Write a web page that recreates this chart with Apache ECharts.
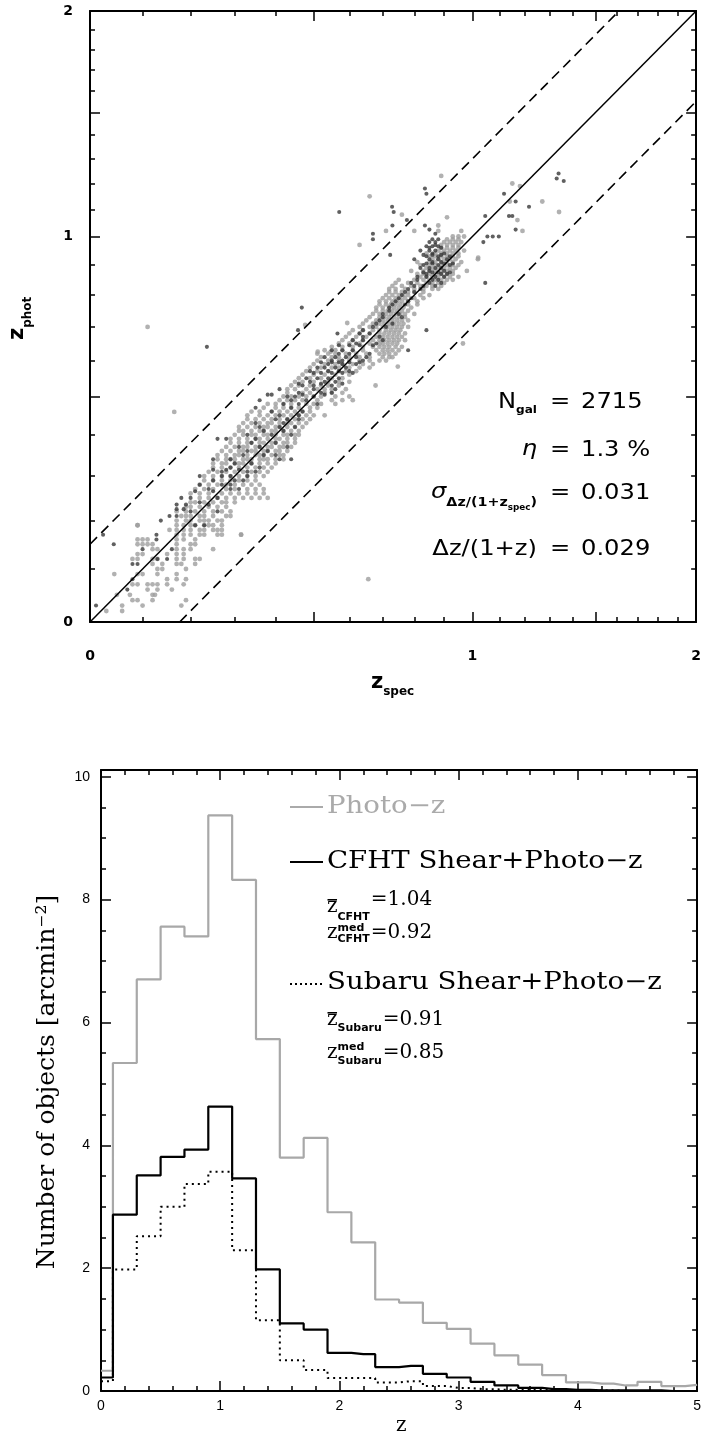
<!DOCTYPE html>
<html>
<head>
<meta charset="utf-8">
<script src="https://cdn.jsdelivr.net/npm/echarts@6/dist/echarts.min.js"></script>
<style>
  html, body { margin: 0; padding: 0; background: #fff; }
  #chart { width: 704px; height: 1439px; }
</style>
</head>
<body>
<div id="chart"></div>
<script>
// ---------------- Photometric vs spectroscopic redshifts ----------------
// Each row: [z_phot, [z_spec, z_spec, ...]]
const lightRows = [
  [0.02, [0.03, 0.06]],
  [0.03, [0.06, 0.10, 0.18]],
  [0.04, [0.08, 0.09, 0.12, 0.19]],
  [0.05, [0.05, 0.075, 0.12, 0.125]],
  [0.06, [0.11, 0.13, 0.16]],
  [0.07, [0.08, 0.09, 0.11, 0.12, 0.13, 0.15, 0.185]],
  [0.08, [0.15, 0.17, 0.19]],
  [0.09, [0.045, 0.09, 0.10, 0.13, 0.17]],
  [0.10, [0.13, 0.14, 0.19]],
  [0.11, [0.12, 0.14, 0.17, 0.18, 0.21]],
  [0.12, [0.08, 0.09, 0.12, 0.13, 0.17, 0.185, 0.21, 0.22]],
  [0.13, [0.09, 0.10, 0.15, 0.17, 0.185]],
  [0.14, [0.12, 0.13, 0.17, 0.185, 0.20, 0.25]],
  [0.15, [0.09, 0.10, 0.11, 0.12, 0.17, 0.20, 0.21]],
  [0.16, [0.09, 0.10, 0.11, 0.17, 0.185, 0.21]],
  [0.17, [0.17, 0.185, 0.20, 0.22, 0.23, 0.26, 0.27, 0.315]],
  [0.18, [0.155, 0.17, 0.185, 0.20, 0.22, 0.23, 0.25, 0.26, 0.27]],
  [0.19, [0.09, 0.17, 0.185, 0.20, 0.21, 0.23, 0.24, 0.25, 0.27]],
  [0.20, [0.17, 0.19, 0.20, 0.22, 0.23, 0.24, 0.26, 0.27]],
  [0.21, [0.18, 0.19, 0.20, 0.22, 0.23, 0.25, 0.28, 0.29]],
  [0.22, [0.17, 0.19, 0.21, 0.23, 0.25, 0.27, 0.29]],
  [0.23, [0.19, 0.20, 0.22, 0.24, 0.26, 0.28]],
  [0.24, [0.20, 0.21, 0.23, 0.25, 0.27, 0.28, 0.30]],
  [0.25, [0.22, 0.24, 0.26, 0.28, 0.30, 0.32, 0.34, 0.36, 0.38]],
  [0.26, [0.20, 0.22, 0.24, 0.27, 0.29, 0.31, 0.33, 0.35, 0.37]],
  [0.27, [0.21, 0.23, 0.25, 0.28, 0.30, 0.33, 0.35, 0.37]],
  [0.28, [0.22, 0.24, 0.26, 0.28, 0.30, 0.32, 0.34, 0.36]],
  [0.29, [0.23, 0.25, 0.27, 0.29, 0.31, 0.33, 0.35]],
  [0.30, [0.23, 0.25, 0.27, 0.29, 0.31, 0.33, 0.35, 0.37]],
  [0.31, [0.24, 0.26, 0.28, 0.30, 0.32, 0.34, 0.36, 0.38]],
  [0.32, [0.25, 0.27, 0.29, 0.31, 0.33, 0.35, 0.37, 0.39]],
  [0.33, [0.25, 0.27, 0.28, 0.30, 0.31, 0.32, 0.34, 0.36, 0.38, 0.40]],
  [0.34, [0.26, 0.28, 0.29, 0.30, 0.32, 0.33, 0.34, 0.36, 0.37, 0.38, 0.40, 0.42]],
  [0.35, [0.26, 0.28, 0.30, 0.31, 0.33, 0.35, 0.36, 0.37, 0.39, 0.41, 0.42]],
  [0.36, [0.27, 0.29, 0.31, 0.32, 0.34, 0.35, 0.37, 0.38, 0.40, 0.41, 0.43]],
  [0.37, [0.28, 0.30, 0.32, 0.33, 0.35, 0.36, 0.38, 0.39, 0.41, 0.42, 0.44]],
  [0.38, [0.29, 0.31, 0.33, 0.34, 0.36, 0.37, 0.39, 0.40, 0.42, 0.43, 0.45]],
  [0.39, [0.29, 0.31, 0.33, 0.35, 0.36, 0.38, 0.40, 0.41, 0.43, 0.45]],
  [0.40, [0.30, 0.32, 0.34, 0.35, 0.37, 0.38, 0.40, 0.42, 0.43, 0.45, 0.46]],
  [0.41, [0.31, 0.32, 0.34, 0.36, 0.37, 0.39, 0.40, 0.42, 0.44, 0.46]],
  [0.42, [0.31, 0.33, 0.35, 0.37, 0.38, 0.40, 0.41, 0.43, 0.45, 0.47]],
  [0.43, [0.32, 0.34, 0.36, 0.38, 0.39, 0.41, 0.43, 0.44, 0.46, 0.48]],
  [0.44, [0.33, 0.35, 0.37, 0.39, 0.41, 0.43, 0.45, 0.47, 0.49]],
  [0.45, [0.33, 0.36, 0.38, 0.40, 0.42, 0.44, 0.46, 0.48, 0.50, 0.53]],
  [0.46, [0.34, 0.36, 0.39, 0.41, 0.43, 0.45, 0.47, 0.49]],
  [0.47, [0.37, 0.40, 0.42, 0.44, 0.46, 0.49, 0.51]],
  [0.48, [0.38, 0.40, 0.42, 0.44, 0.48, 0.50, 0.52, 0.56]],
  [0.49, [0.41, 0.43, 0.45, 0.47, 0.51, 0.55, 0.58, 0.61]],
  [0.50, [0.42, 0.44, 0.46, 0.48, 0.50, 0.52, 0.56, 0.60]],
  [0.51, [0.43, 0.47, 0.49, 0.53, 0.55, 0.58]],
  [0.52, [0.43, 0.45, 0.48, 0.51, 0.53, 0.55, 0.59]],
  [0.53, [0.44, 0.46, 0.49, 0.52, 0.54, 0.57]],
  [0.54, [0.45, 0.47, 0.50, 0.54, 0.57, 0.60]],
  [0.55, [0.46, 0.49, 0.52, 0.55, 0.58]],
  [0.56, [0.47, 0.50, 0.53, 0.56, 0.60]],
  [0.57, [0.48, 0.51, 0.54, 0.57, 0.59, 0.62]],
  [0.58, [0.49, 0.52, 0.55, 0.57, 0.60, 0.63, 0.66]],
  [0.59, [0.50, 0.53, 0.56, 0.58, 0.61, 0.64, 0.67]],
  [0.60, [0.51, 0.54, 0.57, 0.60, 0.63, 0.66, 0.69, 0.71]],
  [0.61, [0.52, 0.55, 0.57, 0.60, 0.63, 0.66, 0.70, 0.72, 0.73]],
  [0.62, [0.51, 0.54, 0.56, 0.59, 0.62, 0.65, 0.69, 0.705, 0.72, 0.74]],
  [0.63, [0.53, 0.56, 0.58, 0.61, 0.64, 0.68, 0.70, 0.715, 0.73, 0.75]],
  [0.64, [0.55, 0.58, 0.61, 0.64, 0.67, 0.69, 0.705, 0.72, 0.74, 0.76]],
  [0.65, [0.57, 0.60, 0.63, 0.66, 0.69, 0.70, 0.715, 0.73, 0.745]],
  [0.66, [0.58, 0.61, 0.64, 0.67, 0.69, 0.705, 0.72, 0.735, 0.75, 0.77]],
  [0.67, [0.59, 0.62, 0.65, 0.68, 0.70, 0.715, 0.73, 0.745, 0.76]],
  [0.68, [0.60, 0.63, 0.66, 0.69, 0.705, 0.72, 0.735, 0.75, 0.77]],
  [0.69, [0.61, 0.64, 0.67, 0.69, 0.71, 0.725, 0.74, 0.755]],
  [0.70, [0.63, 0.66, 0.68, 0.70, 0.715, 0.73, 0.745, 0.76, 0.78]],
  [0.71, [0.64, 0.67, 0.69, 0.705, 0.72, 0.735, 0.75, 0.765]],
  [0.72, [0.65, 0.68, 0.70, 0.715, 0.73, 0.745, 0.76, 0.78]],
  [0.73, [0.66, 0.69, 0.705, 0.72, 0.735, 0.75, 0.77]],
  [0.74, [0.67, 0.69, 0.71, 0.725, 0.74, 0.755, 0.77, 0.80]],
  [0.75, [0.68, 0.70, 0.715, 0.73, 0.745, 0.76, 0.78]],
  [0.76, [0.68, 0.70, 0.72, 0.735, 0.75, 0.765, 0.79]],
  [0.77, [0.69, 0.71, 0.725, 0.74, 0.755, 0.78, 0.81]],
  [0.78, [0.69, 0.71, 0.73, 0.745, 0.76, 0.78, 0.81]],
  [0.79, [0.70, 0.72, 0.74, 0.755, 0.77, 0.80, 0.83]],
  [0.80, [0.71, 0.73, 0.75, 0.765, 0.78, 0.82, 0.85]],
  [0.81, [0.72, 0.74, 0.76, 0.78, 0.80, 0.83]],
  [0.82, [0.72, 0.74, 0.77, 0.80, 0.83, 0.86, 0.88]],
  [0.83, [0.73, 0.76, 0.79, 0.82, 0.84, 0.86, 0.89]],
  [0.84, [0.74, 0.78, 0.81, 0.84, 0.86, 0.88, 0.90]],
  [0.85, [0.75, 0.80, 0.83, 0.85, 0.87, 0.89, 0.91, 0.93]],
  [0.86, [0.82, 0.84, 0.86, 0.88, 0.90, 0.92, 0.95]],
  [0.87, [0.81, 0.83, 0.85, 0.87, 0.89, 0.91, 0.93]],
  [0.88, [0.79, 0.83, 0.85, 0.87, 0.89, 0.91, 0.93, 0.98]],
  [0.89, [0.84, 0.86, 0.88, 0.90, 0.92, 0.94]],
  [0.90, [0.82, 0.85, 0.87, 0.89, 0.91, 0.93, 0.95]],
  [0.91, [0.81, 0.85, 0.87, 0.89, 0.91, 0.93, 0.96]],
  [0.92, [0.86, 0.88, 0.90, 0.92, 0.94, 1.02]],
  [0.93, [0.85, 0.87, 0.89, 0.91, 0.93, 0.95]],
  [0.94, [0.84, 0.87, 0.89, 0.91, 0.93, 0.95]],
  [0.95, [0.88, 0.90, 0.92, 0.94, 0.97]],
  [0.96, [0.89, 0.91, 0.93, 0.95]],
  [0.97, [0.63, 0.89, 0.91, 0.93, 0.95]],
  [0.98, [0.90, 0.92, 0.94, 0.96]],
  [0.99, [0.91, 0.93, 0.95]],
  [1.00, [0.93, 0.95, 0.97]],
  [1.02, [0.71, 0.80, 0.88, 0.96, 1.19]],
  [1.04, [0.88]],
  [1.06, [1.17]],
  [1.07, [0.91]],
  [1.08, [0.76]],
  [1.09, [1.34]],
  [1.13, [1.14, 1.27]],
  [1.15, [0.66]],
  [1.19, [1.18]],
  [1.20, [1.15]],
  [1.23, [0.89]]
];

// isolated light points: [z_spec, z_phot]
const lightOutliers = [
  [0.165, 0.459], [0.656, 0.08], [0.594, 0.712], [0.477, 0.706], [0.547, 0.626],
  [0.511, 0.626], [0.966, 0.65], [0.678, 0.53], [0.747, 0.583], [1.021, 0.925],
  [0.11, 0.70], [0.09, 0.19], [0.315, 0.17]
];

const darkRows = [
  [0.03, [0.011]],
  [0.06, [0.07]],
  [0.08, [0.08]],
  [0.11, [0.08, 0.09]],
  [0.12, [0.13, 0.15]],
  [0.14, [0.10, 0.16]],
  [0.15, [0.044]],
  [0.16, [0.128]],
  [0.17, [0.024, 0.128]],
  [0.19, [0.21, 0.23]],
  [0.20, [0.137]],
  [0.21, [0.155, 0.17]],
  [0.22, [0.20, 0.26]],
  [0.225, [0.17, 0.185]],
  [0.235, [0.17, 0.19, 0.24]],
  [0.24, [0.22]],
  [0.25, [0.18, 0.20, 0.26]],
  [0.265, [0.21, 0.25]],
  [0.27, [0.24, 0.29, 0.31]],
  [0.28, [0.22, 0.27, 0.29]],
  [0.29, [0.25, 0.30, 0.32]],
  [0.30, [0.22, 0.27, 0.29, 0.33]],
  [0.31, [0.27, 0.33, 0.35]],
  [0.315, [0.25, 0.28, 0.31]],
  [0.32, [0.29, 0.36]],
  [0.33, [0.30, 0.34]],
  [0.34, [0.25, 0.29, 0.41, 0.44]],
  [0.35, [0.32, 0.37, 0.40]],
  [0.36, [0.33, 0.38]],
  [0.37, [0.31, 0.36, 0.43]],
  [0.38, [0.34, 0.40]],
  [0.39, [0.26, 0.28, 0.35]],
  [0.40, [0.33, 0.39, 0.44]],
  [0.41, [0.37, 0.42]],
  [0.42, [0.36, 0.41, 0.45]],
  [0.43, [0.35, 0.42]],
  [0.44, [0.40, 0.43, 0.46]],
  [0.45, [0.41, 0.46]],
  [0.46, [0.39, 0.47]],
  [0.47, [0.35, 0.44]],
  [0.48, [0.42, 0.46, 0.51]],
  [0.49, [0.36, 0.44, 0.48]],
  [0.50, [0.43, 0.45, 0.50]],
  [0.505, [0.38, 0.39, 0.47, 0.53]],
  [0.51, [0.46, 0.52, 0.55]],
  [0.52, [0.41, 0.50, 0.56]],
  [0.53, [0.47, 0.50, 0.55]],
  [0.535, [0.46, 0.52, 0.58]],
  [0.54, [0.49, 0.53, 0.56]],
  [0.55, [0.48, 0.51, 0.54, 0.57]],
  [0.565, [0.50, 0.52, 0.55, 0.58, 0.61]],
  [0.57, [0.49, 0.54, 0.57, 0.60]],
  [0.58, [0.51, 0.53, 0.56, 0.59]],
  [0.59, [0.54, 0.58, 0.62]],
  [0.595, [0.52, 0.55, 0.57, 0.60, 0.63]],
  [0.60, [0.55, 0.58, 0.64]],
  [0.61, [0.53, 0.56, 0.59, 0.62, 0.65]],
  [0.62, [0.57, 0.60, 0.66]],
  [0.63, [0.55, 0.58, 0.61, 0.78]],
  [0.64, [0.236]],
  [0.645, [0.57, 0.60, 0.63, 0.67]],
  [0.65, [0.62, 0.68]],
  [0.66, [0.61, 0.64, 0.70]],
  [0.67, [0.64, 0.69]],
  [0.68, [0.566, 0.63, 0.66]],
  [0.69, [0.458, 0.64, 0.84]],
  [0.70, [0.67, 0.71]],
  [0.71, [0.68, 0.73]],
  [0.72, [0.69]],
  [0.73, [0.70, 0.76]],
  [0.74, [0.70, 0.75]],
  [0.75, [0.72]],
  [0.76, [0.468, 0.72]],
  [0.77, [0.73, 0.77]],
  [0.78, [0.74, 0.78]],
  [0.79, [0.75, 0.79]],
  [0.80, [0.76]],
  [0.81, [0.77, 0.80]],
  [0.82, [0.78, 0.82]],
  [0.83, [0.80, 0.83, 0.87]],
  [0.84, [0.79, 0.85, 0.89, 1.047]],
  [0.85, [0.81, 0.86, 0.88]],
  [0.86, [0.81, 0.84, 0.87, 0.90]],
  [0.87, [0.84, 0.89, 0.91]],
  [0.875, [0.83, 0.86, 0.88, 0.92]],
  [0.88, [0.85, 0.90]],
  [0.89, [0.82, 0.85, 0.87, 0.89]],
  [0.90, [0.83, 0.88, 0.92]],
  [0.905, [0.84, 0.86, 0.90, 0.93]],
  [0.91, [0.86, 0.89]],
  [0.92, [0.80, 0.85, 0.88, 0.91]],
  [0.93, [0.84, 0.88, 0.92]],
  [0.935, [0.723, 0.83, 0.86, 0.89]],
  [0.94, [0.86, 0.90]],
  [0.95, [0.82, 0.85, 0.87]],
  [0.96, [0.85, 0.89]],
  [0.965, [0.84, 0.86, 0.88]],
  [0.97, [0.87]],
  [0.98, [0.85, 0.87, 1.04]],
  [0.99, [0.67, 0.86, 0.88]],
  [1.00, [1.055, 1.075, 1.098]],
  [1.01, [0.67, 0.87]],
  [1.025, [0.85, 1.163]],
  [1.04, [0.73, 0.835]],
  [1.06, [0.776]],
  [1.075, [1.047, 1.137, 1.15]],
  [1.09, [0.571, 0.734]],
  [1.11, [0.729, 1.216]],
  [1.13, [1.163]],
  [1.16, [0.84, 1.118]],
  [1.18, [0.835]],
  [1.21, [1.36]],
  [1.22, [1.33]],
  [1.24, [1.338]]
];

const outlierCut = 0.15;            // |dz|/(1+z) boundary
const zTickMajor = [0, 0.5, 1, 1.5, 2];
const zTickMinor = [0.1, 0.2, 0.3, 0.4, 0.6, 0.7, 0.8, 0.9, 1.1, 1.2, 1.3, 1.4, 1.6, 1.7, 1.8, 1.9];
const zTickLabels = [0, 1, 2];

// ---------------- Redshift distributions ----------------
const binCentres = [0, 0.2, 0.4, 0.6, 0.8, 1.0, 1.2, 1.4, 1.6, 1.8, 2.0, 2.2, 2.4,
                    2.6, 2.8, 3.0, 3.2, 3.4, 3.6, 3.8, 4.0, 4.2, 4.4, 4.6, 4.8, 5.0];
const photoZ = [0.33, 5.34, 6.70, 7.56, 7.40, 9.37, 8.32, 5.73, 3.80, 4.12, 2.91, 2.42, 1.49,
                1.44, 1.11, 1.01, 0.77, 0.58, 0.43, 0.26, 0.14, 0.12, 0.09, 0.15, 0.08, 0.10];
const cfhtShear = [0.22, 2.87, 3.51, 3.81, 3.93, 4.63, 3.46, 1.98, 1.10, 1.00, 0.62, 0.60, 0.39,
                   0.41, 0.28, 0.22, 0.15, 0.09, 0.05, 0.03, 0.02, 0.01, 0.01, 0.01, 0.0, 0.0];
const subaruShear = [0.16, 1.98, 2.52, 3.00, 3.37, 3.57, 2.29, 1.15, 0.50, 0.34, 0.21, 0.21, 0.14,
                     0.16, 0.08, 0.05, 0.03, 0.02, 0.02, 0.01, 0.01, 0.01, 0.0, 0.0, 0.0, 0.0];
const countTickMajor = [0, 2, 4, 6, 8, 10];
const countTickMinor = [0.5, 1, 1.5, 2.5, 3, 3.5, 4.5, 5, 5.5, 6.5, 7, 7.5, 8.5, 9, 9.5];

// ---------------- helpers ----------------
const onePlus = z => 1 + z;   // the redshift axes run over log(1+z)
function rowsToPoints(rows, extra) {
  const pts = [];
  rows.forEach(([zp, specs]) => specs.forEach(zs => pts.push([onePlus(zs), onePlus(zp)])));
  (extra || []).forEach(([zs, zp]) => pts.push([onePlus(zs), onePlus(zp)]));
  return pts;
}

const measureCtx = document.createElement('canvas').getContext('2d');
function textWidth(str, font) { measureCtx.font = font; return measureCtx.measureText(str).width; }
function fontOf(size, family, weight, style) {
  return `${style || 'normal'} ${weight || 'normal'} ${size}px "${family}"`;
}
// a run of text pieces laid out left to right; each piece gives its own baseline
function textRun(x0, pieces, scaleX) {
  const sx = scaleX || 1;
  const els = [];
  let x = x0;
  pieces.forEach(p => {
    const font = fontOf(p.size, p.family, p.weight, p.style);
    els.push({
      type: 'text', x: x, y: p.base - 0.346 * p.size, scaleX: sx, silent: true,
      style: { text: p.text, font: font, fill: p.fill || '#000', textAlign: 'left', textVerticalAlign: 'middle' }
    });
    x += textWidth(p.text, font) * sx + (p.gap || 0);
  });
  return { els, end: x };
}
function runWidth(pieces, scaleX) {
  let w = 0;
  pieces.forEach(p => { w += textWidth(p.text, fontOf(p.size, p.family, p.weight, p.style)) * (scaleX || 1) + (p.gap || 0); });
  return w;
}

const SANS = 'DejaVu Sans', SERIF = 'DejaVu Serif';
const axisLineStyle = { color: '#000', width: 2 };
const tickStyle = { color: '#000', width: 1.5 };

// ---------------- axes ----------------
function redshiftAxes(dim) {
  const isX = dim === 'x';
  const base = { gridIndex: 0, type: 'log', logBase: 10, min: onePlus(0), max: onePlus(2), splitLine: { show: false } };
  const pos = isX ? ['bottom', 'top'] : ['left', 'right'];
  const labelStyle = { show: true, customValues: zTickLabels.map(onePlus), formatter: v => String(Math.round(v - 1)),
                       color: '#000', fontFamily: SANS, fontWeight: 'bold', fontSize: 14, margin: isX ? 27 : 17 };
  return [
    Object.assign({}, base, { position: pos[0], axisLine: { show: true, onZero: false, lineStyle: axisLineStyle },
      axisTick: { show: true, inside: true, length: 10, customValues: zTickMajor.map(onePlus), lineStyle: tickStyle },
      axisLabel: labelStyle }),
    Object.assign({}, base, { position: pos[0], axisLine: { show: false },
      axisTick: { show: true, inside: true, length: 5, customValues: zTickMinor.map(onePlus), lineStyle: tickStyle },
      axisLabel: { show: false } }),
    Object.assign({}, base, { position: pos[1], axisLine: { show: true, onZero: false, lineStyle: axisLineStyle },
      axisTick: { show: true, inside: true, length: 10, customValues: zTickMajor.map(onePlus), lineStyle: tickStyle },
      axisLabel: { show: false } }),
    Object.assign({}, base, { position: pos[1], axisLine: { show: false },
      axisTick: { show: true, inside: true, length: 5, customValues: zTickMinor.map(onePlus), lineStyle: tickStyle },
      axisLabel: { show: false } })
  ];
}

const histLabelFont = { color: '#000', fontFamily: '"Liberation Sans Narrow", "Liberation Sans"', fontSize: 14 };
const histX = [
  { gridIndex: 1, type: 'value', position: 'bottom', min: 0, max: 5, interval: 1, splitLine: { show: false },
    axisLine: { show: true, onZero: false, lineStyle: axisLineStyle },
    axisTick: { show: true, inside: true, length: 10, lineStyle: tickStyle },
    minorTick: { show: true, splitNumber: 5, length: 5, lineStyle: tickStyle },
    axisLabel: Object.assign({ show: true, margin: 8 }, histLabelFont) },
  { gridIndex: 1, type: 'value', position: 'top', min: 0, max: 5, interval: 1, splitLine: { show: false },
    axisLine: { show: true, onZero: false, lineStyle: axisLineStyle },
    axisTick: { show: true, inside: true, length: 10, lineStyle: tickStyle },
    minorTick: { show: true, splitNumber: 5, length: 5, lineStyle: tickStyle },
    axisLabel: { show: false } }
];
function countAxis(position, major, withLabels) {
  return { gridIndex: 1, type: 'value', position: position, min: 0, max: 10.11, splitLine: { show: false },
    axisLine: { show: major, onZero: false, lineStyle: axisLineStyle },
    axisTick: { show: true, inside: true, length: major ? 10 : 5,
                customValues: major ? countTickMajor : countTickMinor, lineStyle: tickStyle },
    axisLabel: withLabels ? Object.assign({ show: true, customValues: countTickMajor, margin: 11 }, histLabelFont)
                          : { show: false } };
}
const histY = [countAxis('left', true, true), countAxis('left', false, false),
               countAxis('right', true, false), countAxis('right', false, false)];

// ---------------- annotation text ----------------
const graphics = [];
function add(list) { list.forEach(e => graphics.push(e)); }

// x-axis title of the scatter panel: z_spec
add(textRun(371, [
  { text: 'z', size: 21, family: SANS, weight: 'bold', base: 690 },
  { text: 'spec', size: 12, family: SANS, weight: 'bold', base: 696 }
]).els);
// y-axis title of the scatter panel: z_phot (reads upward)
(function () {
  const zf = fontOf(21, SANS, 'bold');
  const wz = textWidth('z', zf);
  graphics.push({ type: 'text', x: 25 - 0.346 * 21, y: 340, rotation: Math.PI / 2, silent: true,
    style: { text: 'z', font: zf, fill: '#000', textAlign: 'left', textVerticalAlign: 'middle' } });
  graphics.push({ type: 'text', x: 32 - 0.346 * 12, y: 340 - wz, rotation: Math.PI / 2, silent: true,
    style: { text: 'phot', font: fontOf(12, SANS, 'bold'), fill: '#000', textAlign: 'left', textVerticalAlign: 'middle' } });
})();

// statistics block
const statScale = 1.1, statRight = 537, eqX = 550, valX = 581;
function statRow(lhs, base, value) {
  add(textRun(statRight - runWidth(lhs, statScale), lhs, statScale).els);
  add(textRun(eqX, [{ text: '=', size: 22, family: SANS, base: base }], statScale).els);
  add(textRun(valX, [{ text: value, size: 22, family: SANS, base: base }], statScale).els);
}
statRow([{ text: 'N', size: 22, family: SANS, base: 410 },
         { text: 'gal', size: 11, family: SANS, weight: 'bold', base: 414 }], 410, '2715');
statRow([{ text: 'η', size: 22, family: SANS, style: 'italic', base: 457 }], 458, '1.3 %');
statRow([{ text: 'σ', size: 22, family: SANS, style: 'italic', base: 500 },
         { text: 'Δz/(1+z', size: 13, family: SANS, weight: 'bold', base: 507 },
         { text: 'spec', size: 8, family: SANS, weight: 'bold', base: 511 },
         { text: ')', size: 13, family: SANS, weight: 'bold', base: 507 }], 501, '0.031');
statRow([{ text: 'Δz/(1+z)', size: 22, family: SANS, base: 557 }], 557, '0.029');

// legend of the distribution panel
const legX = 327, legScale = 1.15;
graphics.push({ type: 'line', silent: true, shape: { x1: 290, y1: 807, x2: 323, y2: 807 }, style: { stroke: '#aaaaaa', lineWidth: 2 } });
graphics.push({ type: 'line', silent: true, shape: { x1: 290, y1: 862, x2: 323, y2: 862 }, style: { stroke: '#000', lineWidth: 2 } });
graphics.push({ type: 'line', silent: true, shape: { x1: 290, y1: 984, x2: 323, y2: 984 }, style: { stroke: '#000', lineWidth: 2, lineDash: [2, 3] } });
add(textRun(legX, [{ text: 'Photo−z', size: 24, family: SERIF, base: 815, fill: '#aaaaaa' }], legScale).els);
add(textRun(legX, [{ text: 'CFHT Shear+Photo−z', size: 24, family: SERIF, base: 870 }], legScale).els);
add(textRun(legX, [{ text: 'Subaru Shear+Photo−z', size: 24, family: SERIF, base: 991 }], legScale).els);

// mean redshift: z with an overbar, subscript survey name
function meanRow(sub, base, zBase, subBase, value) {
  const zf = fontOf(20, SERIF);
  const wz = textWidth('z', zf);
  const barTop = Math.round(zBase - 0.52 * 20 - 4.5);
  graphics.push({ type: 'rect', silent: true, z: 10,
    shape: { x: legX + 0.5, y: barTop, width: wz - 1, height: 1.6 },
    style: { fill: '#000' } });
  add(textRun(legX, [
    { text: 'z', size: 20, family: SERIF, base: zBase },
    { text: sub, size: 11, family: SANS, weight: 'bold', base: subBase, gap: 1 },
    { text: '=' + value, size: 20, family: SERIF, base: base }
  ]).els);
}
// median redshift: z with superscript "med" over the subscript survey name
function medianRow(sub, base, supBase, subBase, value) {
  const zf = fontOf(20, SERIF);
  const wz = textWidth('z', zf);
  add(textRun(legX, [{ text: 'z', size: 20, family: SERIF, base: base }]).els);
  add(textRun(legX + wz, [{ text: 'med', size: 11, family: SANS, weight: 'bold', base: supBase }]).els);
  const s = textRun(legX + wz, [{ text: sub, size: 11, family: SANS, weight: 'bold', base: subBase, gap: 1 }]);
  add(s.els);
  add(textRun(s.end, [{ text: '=' + value, size: 20, family: SERIF, base: base }]).els);
}
meanRow('CFHT', 907, 914, 921, '1.04');
medianRow('CFHT', 940, 932, 943, '0.92');
meanRow('Subaru', 1027, 1027, 1032, '0.91');
medianRow('Subaru', 1060, 1051, 1065, '0.85');

// axis titles of the distribution panel
graphics.push({ type: 'text', x: 56 - 0.346 * 25, y: 1082, rotation: Math.PI / 2, silent: true,
  style: { text: 'Number of objects [arcmin⁻²]', font: fontOf(25, SERIF), fill: '#000', textAlign: 'center', textVerticalAlign: 'middle' } });
add(textRun(396, [{ text: 'z', size: 20, family: SERIF, base: 1433 }]).els);

// ---------------- chart ----------------
const chart = echarts.init(document.getElementById('chart'), null, { renderer: 'canvas' });
const rxAxes = redshiftAxes('x'), ryAxes = redshiftAxes('y');
const xIdxHist = rxAxes.length, yIdxHist = ryAxes.length;

function histSeries(values, style) {
  return { type: 'line', xAxisIndex: xIdxHist, yAxisIndex: yIdxHist, step: 'middle', symbol: 'none',
           data: binCentres.map((c, i) => [c, values[i]]), lineStyle: style, z: 3 };
}
function refLine(p0, p1, dashed) {
  return { type: 'line', xAxisIndex: 0, yAxisIndex: 0, symbol: 'none', data: [p0, p1], z: 5,
           lineStyle: { color: '#000', width: dashed ? 1.6 : 1.5, type: dashed ? [10, 6] : 'solid' } };
}

chart.setOption({
  animation: false,
  backgroundColor: '#fff',
  grid: [
    { left: 90, top: 11, width: 612, height: 611 },
    { left: 101, top: 770, width: 601.5, height: 621 }
  ],
  xAxis: rxAxes.concat(histX),
  yAxis: ryAxes.concat(histY),
  series: [
    { type: 'scatter', xAxisIndex: 0, yAxisIndex: 0, symbol: 'circle', symbolSize: 4.8, z: 2,
      itemStyle: { color: '#9d9d9d' }, data: rowsToPoints(lightRows, lightOutliers) },
    { type: 'scatter', xAxisIndex: 0, yAxisIndex: 0, symbol: 'circle', symbolSize: 4.1, z: 3,
      itemStyle: { color: '#383838' }, data: rowsToPoints(darkRows) },
    refLine([onePlus(0), onePlus(0)], [onePlus(2), onePlus(2)], false),
    refLine([onePlus(0), onePlus(outlierCut)], [onePlus(2) / (1 + outlierCut), onePlus(2)], true),
    refLine([1 / (1 - outlierCut), onePlus(0)], [onePlus(2), onePlus(2) * (1 - outlierCut)], true),
    histSeries(photoZ, { color: '#a8a8a8', width: 2.2 }),
    histSeries(cfhtShear, { color: '#000', width: 2.2 }),
    histSeries(subaruShear, { color: '#000', width: 2, type: [2, 4] })
  ],
  graphic: { elements: graphics }
});
</script>
</body>
</html>
